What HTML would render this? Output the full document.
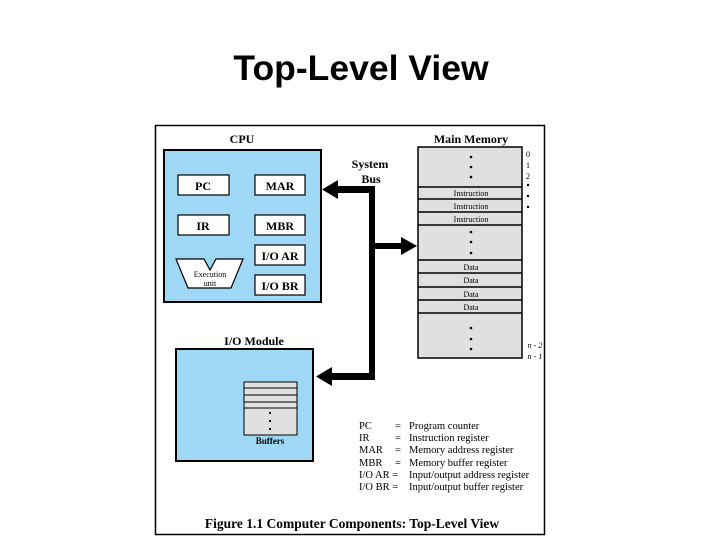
<!DOCTYPE html>
<html><head><style>
body{margin:0;width:720px;height:540px;background:#fff;overflow:hidden}
</style></head><body>
<svg width="720" height="540" xmlns="http://www.w3.org/2000/svg">
<text x="361" y="80" text-anchor="middle" font-family="Liberation Sans" font-size="35.5" font-weight="bold">Top-Level View</text>
<rect x="155.5" y="125.5" width="389" height="409" fill="#fff" stroke="#000" stroke-width="1.5"/>
<g font-family="Liberation Serif" font-weight="bold">
<text x="242" y="143" text-anchor="middle" font-size="12">CPU</text>
<rect x="164" y="150" width="157" height="152" fill="#9fd8f4" stroke="#000" stroke-width="2"/>
<g fill="#fff" stroke="#000" stroke-width="1.2">
<rect x="178" y="175" width="51" height="20"/><rect x="255" y="175" width="50" height="20"/>
<rect x="178" y="215" width="51" height="20"/><rect x="255" y="215" width="50" height="20"/>
<rect x="255" y="245" width="50" height="20"/><rect x="255" y="275" width="50" height="20"/>
<polygon points="176,259 204,259 210,270 216,259 243,259 231,288 188,288"/>
</g>
<g font-size="12" text-anchor="middle">
<text x="203" y="190">PC</text><text x="280" y="190">MAR</text>
<text x="203" y="230">IR</text><text x="280" y="230">MBR</text>
<text x="280" y="260">I/O AR</text><text x="280" y="290">I/O BR</text>
</g>
<text x="210" y="277" text-anchor="middle" font-size="8" font-weight="normal">Execution</text>
<text x="210" y="286" text-anchor="middle" font-size="8" font-weight="normal">unit</text>
<text x="370" y="168" text-anchor="middle" font-size="12">System</text>
<text x="371" y="183" text-anchor="middle" font-size="12">Bus</text>
<text x="471" y="143" text-anchor="middle" font-size="12">Main Memory</text>
<text x="254" y="345" text-anchor="middle" font-size="12">I/O Module</text>
</g>
<g fill="#000">
<rect x="369" y="186" width="6" height="194"/>
<rect x="335" y="186" width="40" height="7"/>
<polygon points="322,189.5 338,180 338,199"/>
<rect x="369" y="243" width="34" height="6"/>
<polygon points="417,246 401,237 401,255"/>
<rect x="330" y="373" width="45" height="7"/>
<polygon points="316,376.5 332,367 332,386"/>
</g>
<rect x="418" y="147" width="104" height="211" fill="#e0e0e0" stroke="#000" stroke-width="1.5"/>
<g stroke="#000" stroke-width="1.5">
<line x1="418" y1="187" x2="522" y2="187"/><line x1="418" y1="199" x2="522" y2="199"/>
<line x1="418" y1="212" x2="522" y2="212"/><line x1="418" y1="225" x2="522" y2="225"/>
<line x1="418" y1="260" x2="522" y2="260"/><line x1="418" y1="273" x2="522" y2="273"/>
<line x1="418" y1="287" x2="522" y2="287"/><line x1="418" y1="300" x2="522" y2="300"/>
<line x1="418" y1="313" x2="522" y2="313"/>
</g>
<g fill="#000">
<circle cx="471" cy="157" r="1.3"/><circle cx="471" cy="167" r="1.3"/><circle cx="471" cy="177" r="1.3"/>
<circle cx="471" cy="232" r="1.3"/><circle cx="471" cy="242" r="1.3"/><circle cx="471" cy="253" r="1.3"/>
<circle cx="471" cy="328" r="1.3"/><circle cx="471" cy="339" r="1.3"/><circle cx="471" cy="349" r="1.3"/>
<circle cx="528" cy="185" r="1.2"/><circle cx="528" cy="196" r="1.2"/><circle cx="528" cy="207" r="1.2"/>
</g>
<g font-family="Liberation Serif" font-size="8" text-anchor="middle">
<text x="471" y="196">Instruction</text><text x="471" y="209">Instruction</text><text x="471" y="222">Instruction</text>
<text x="471" y="270">Data</text><text x="471" y="283">Data</text><text x="471" y="297">Data</text><text x="471" y="310">Data</text>
<text x="528" y="157">0</text><text x="528" y="168">1</text><text x="528" y="179">2</text>
<text x="535" y="348" font-style="italic">n - 2</text><text x="535" y="359" font-style="italic">n - 1</text>
</g>
<rect x="176" y="349" width="137" height="112" fill="#9fd8f4" stroke="#000" stroke-width="2"/>
<rect x="244" y="382" width="53" height="53" fill="#e0e0e0" stroke="#000" stroke-width="1"/>
<g stroke="#000" stroke-width="1"><line x1="244" y1="388" x2="297" y2="388"/><line x1="244" y1="395" x2="297" y2="395"/><line x1="244" y1="402" x2="297" y2="402"/><line x1="244" y1="408" x2="297" y2="408"/></g>
<g fill="#000"><circle cx="270" cy="413" r="1.1"/><circle cx="270" cy="421" r="1.1"/><circle cx="270" cy="429" r="1.1"/></g>
<text x="270" y="444" text-anchor="middle" font-family="Liberation Serif" font-weight="bold" font-size="9">Buffers</text>
<g font-family="Liberation Serif" font-size="10.5">
<text x="359" y="429">PC</text><text x="395" y="429">=</text><text x="409" y="429">Program counter</text>
<text x="359" y="441">IR</text><text x="395" y="441">=</text><text x="409" y="441">Instruction register</text>
<text x="359" y="453">MAR</text><text x="395" y="453">=</text><text x="409" y="453">Memory address register</text>
<text x="359" y="466">MBR</text><text x="395" y="466">=</text><text x="409" y="466">Memory buffer register</text>
<text x="359" y="478">I/O AR =</text><text x="409" y="478">Input/output address register</text>
<text x="359" y="490">I/O BR =</text><text x="409" y="490">Input/output buffer register</text>
</g>
<text x="352" y="528" text-anchor="middle" font-family="Liberation Serif" font-weight="bold" font-size="13.5">Figure 1.1  Computer Components: Top-Level View</text>
</svg>
</body></html>
